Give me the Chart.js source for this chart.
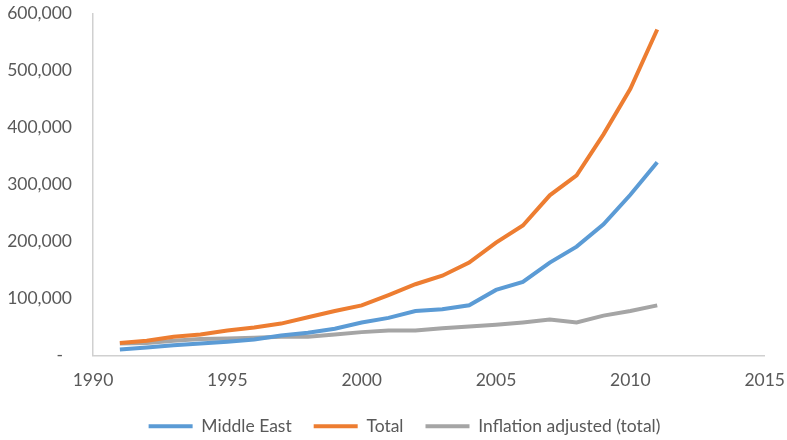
<!DOCTYPE html>
<html>
<head>
<meta charset="utf-8">
<script src="https://cdn.jsdelivr.net/npm/chart.js@4"></script>
<style>
  html, body { margin: 0; padding: 0; background: #fff; }
  #wrap { width: 787px; height: 440px; }
</style>
</head>
<body>
<div id="wrap"><canvas id="chart"></canvas></div>
<script>
// data
const years = [1991,1992,1993,1994,1995,1996,1997,1998,1999,2000,2001,2002,2003,2004,2005,2006,2007,2008,2009,2010,2011];
const middleEast = [10500,14000,18000,21000,24000,28000,35000,40000,47000,58000,66000,78000,81000,88000,115000,129000,163000,191000,230000,282000,339000];
const total = [22000,26000,33000,37000,44000,49000,56000,67000,78000,88000,106000,125000,140000,163000,198000,228000,281000,316000,388000,468000,572000];
const inflationAdj = [21000,22000,26000,29000,30000,31000,33000,33000,37000,41000,44000,44000,48000,51000,54000,58000,63000,58000,70000,78000,88000];
const seriesNames = ["Middle East", "Total", "Inflation adjusted (total)"];
const colors = ["#5B9BD5", "#ED7D31", "#A5A5A5"];
const xTicks = [1990, 1995, 2000, 2005, 2010, 2015];

const toPoints = vals => years.map((y, i) => ({ x: y, y: vals[i] }));

const datasets = [middleEast, total, inflationAdj].map((vals, i) => ({
  label: seriesNames[i],
  data: toPoints(vals),
  borderColor: colors[i],
  backgroundColor: colors[i],
  borderWidth: 4,
  pointRadius: 0,
  pointStyle: 'line',
  tension: 0
}));

const font = { family: "Lato, 'Open Sans', sans-serif", size: 17.5 };
const noGrid = { display: true, drawOnChartArea: false, drawTicks: true, color: 'rgba(0,0,0,0)' };

// nudge the legend so it sits where the reference has it
const legendNudge = {
  id: 'legendNudge',
  afterLayout(chart) {
    const lg = chart.legend;
    lg.left += 11; lg.right += 11;
    lg.top += 5; lg.bottom += 5;
  }
};

new Chart(document.getElementById("chart"), {
  type: 'line',
  data: { datasets: datasets },
  plugins: [legendNudge],
  options: {
    responsive: true,
    maintainAspectRatio: false,
    animation: false,
    layout: { padding: 0 },
    plugins: {
      tooltip: { enabled: false },
      legend: {
        position: 'bottom',
        labels: {
          usePointStyle: true,
          pointStyleWidth: 44,
          color: '#595959',
          font: font,
          padding: 22
        }
      }
    },
    scales: {
      x: {
        type: 'linear',
        min: xTicks[0],
        max: xTicks[xTicks.length - 1],
        afterBuildTicks: s => { s.ticks = xTicks.map(v => ({ value: v })); },
        afterFit: s => { s.height = 35; },
        ticks: { color: '#595959', font: font, padding: 2, callback: v => String(v), maxRotation: 0 },
        grid: Object.assign({ tickLength: 12 }, noGrid),
        border: { display: true, color: '#D0D0D0', width: 1.5 }
      },
      y: {
        min: 0,
        max: 600000,
        afterFit: s => { s.width = 93; },
        ticks: {
          stepSize: 100000,
          color: '#595959',
          font: font,
          padding: 3,
          callback: v => v === 0 ? '-  ' : v.toLocaleString('en-US')
        },
        grid: Object.assign({ tickLength: 18 }, noGrid),
        border: { display: true, color: '#D0D0D0', width: 1.5 }
      }
    }
  }
});
</script>
</body>
</html>
